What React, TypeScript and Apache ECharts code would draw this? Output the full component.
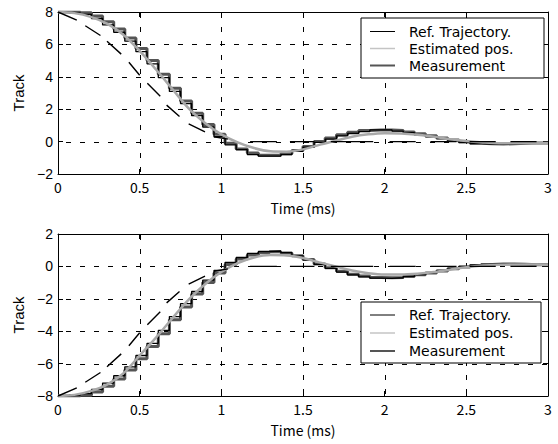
import React, { useEffect, useRef } from 'react';
import * as echarts from 'echarts';

// ---------- data ----------
const estTimes = [0, 0.1, 0.2, 0.3, 0.4, 0.5, 0.6, 0.7, 0.8, 0.9, 1.0, 1.1, 1.2, 1.3, 1.4, 1.5, 1.6, 1.7, 1.8, 1.9, 2.0, 2.1, 2.2, 2.3, 2.4, 2.5, 2.6, 2.7, 2.8, 2.9, 3.0];
const estTop = [8.0, 7.93, 7.7, 7.28, 6.6, 5.6, 4.45, 3.25, 2.05, 1.15, 0.45, -0.05, -0.4, -0.6, -0.62, -0.48, -0.2, 0.05, 0.3, 0.45, 0.52, 0.5, 0.42, 0.3, 0.15, 0.03, -0.05, -0.1, -0.1, -0.1, -0.1];
const estBottom = [-8.0, -7.93, -7.7, -7.3, -6.6, -5.5, -4.4, -3.2, -2.05, -1.1, -0.35, 0.2, 0.55, 0.7, 0.68, 0.52, 0.25, 0.0, -0.25, -0.42, -0.5, -0.5, -0.45, -0.35, -0.2, -0.05, 0.05, 0.1, 0.12, 0.12, 0.1];

const stepTimes = [0, 0.068, 0.136, 0.205, 0.273, 0.341, 0.409, 0.477, 0.545, 0.614, 0.682, 0.75, 0.818, 0.886, 0.955, 1.023, 1.091, 1.159, 1.227, 1.295, 1.364, 1.432, 1.5, 1.568, 1.636, 1.705, 1.773, 1.841, 1.909, 1.977, 2.045, 2.114, 2.182, 2.25, 2.318, 2.386, 2.455, 2.523, 2.591, 2.659, 2.727, 2.795, 2.864, 2.932, 3.0];

const holdTop = [8.0, 8.0, 7.95, 7.85, 7.6, 7.2, 6.75, 6.2, 5.55, 4.8, 3.95, 3.1, 2.35, 1.6, 0.9, 0.3, -0.2, -0.5, -0.8, -0.9, -0.9, -0.8, -0.6, -0.35, -0.05, 0.15, 0.35, 0.5, 0.62, 0.72, 0.72, 0.65, 0.55, 0.42, 0.3, 0.18, 0.05, -0.05, -0.12, -0.15, -0.15, -0.15, -0.12, -0.1];
const measTop = [8.0, 8.0, 8.0, 7.95, 7.75, 7.4, 6.95, 6.4, 5.75, 5.0, 4.15, 3.3, 2.5, 1.75, 1.05, 0.45, -0.1, -0.45, -0.7, -0.85, -0.85, -0.75, -0.55, -0.3, 0.0, 0.22, 0.42, 0.58, 0.68, 0.72, 0.72, 0.68, 0.6, 0.48, 0.36, 0.22, 0.1, -0.02, -0.1, -0.14, -0.15, -0.13, -0.1, -0.08];
const holdBottom = [-8.0, -8.0, -7.95, -7.85, -7.6, -7.2, -6.75, -6.2, -5.5, -4.75, -3.95, -3.1, -2.3, -1.55, -0.85, -0.25, 0.25, 0.55, 0.8, 0.92, 0.95, 0.85, 0.65, 0.4, 0.12, -0.12, -0.35, -0.52, -0.65, -0.72, -0.74, -0.7, -0.62, -0.5, -0.38, -0.25, -0.12, 0.0, 0.08, 0.12, 0.15, 0.15, 0.12, 0.1];
const measBottom = [-8.0, -8.0, -8.0, -7.95, -7.75, -7.4, -6.95, -6.4, -5.7, -4.95, -4.15, -3.3, -2.5, -1.7, -1.0, -0.4, 0.12, 0.45, 0.7, 0.85, 0.9, 0.82, 0.65, 0.42, 0.15, -0.08, -0.3, -0.48, -0.6, -0.68, -0.7, -0.68, -0.62, -0.52, -0.4, -0.28, -0.15, -0.03, 0.06, 0.12, 0.15, 0.15, 0.13, 0.1];

// reference trajectory pieces: [t0, v0, t1, v1]
const refTop = [
  [0.0, 8.0, 0.115, 7.5], [0.167, 7.15, 0.26, 6.55], [0.3, 6.2, 0.387, 5.4], [0.434, 4.9, 0.5, 4.1],
  [0.547, 3.6, 0.626, 2.8], [0.665, 2.25, 0.744, 1.55], [0.8, 1.1, 0.9, 0.6], [0.955, 0.3, 1.04, 0.15],
  [1.176, 0, 1.34, 0], [1.42, 0, 1.57, 0], [1.67, 0, 1.93, 0], [2.03, 0, 2.19, 0], [2.28, 0, 2.44, 0],
  [2.52, 0, 2.68, 0], [2.77, 0, 2.93, 0],
];
const refBottom = [
  [0.0, -8.0, 0.115, -7.5], [0.167, -7.15, 0.26, -6.55], [0.3, -6.2, 0.387, -5.4], [0.434, -4.9, 0.5, -4.1],
  [0.547, -3.6, 0.626, -2.8], [0.665, -2.25, 0.744, -1.55], [0.8, -1.1, 0.9, -0.6], [0.955, -0.3, 1.04, -0.15],
  [1.176, 0, 1.34, 0], [1.42, 0, 1.57, 0], [1.67, 0, 1.93, 0], [2.03, 0, 2.19, 0], [2.28, 0, 2.44, 0],
  [2.52, 0, 2.68, 0], [2.77, 0, 2.93, 0],
];

const xTicks = [0, 0.5, 1, 1.5, 2, 2.5, 3];
const yTicksTop = [-2, 0, 2, 4, 6, 8];
const yTicksBottom = [-8, -6, -4, -2, 0, 2];

const legendNames = ['Ref. Trajectory.', 'Estimated pos.', 'Measurement'];
const xTitle = 'Time (ms)';
const yTitle = 'Track';

// ---------- styles ----------
const C_REF = '#000000';
const C_EST = '#a8a8a8';
const C_MEAS = '#555555';
const C_HOLD = '#000000';
const FONT_X = 'Noto Sans CJK JP';
const FONT_Y = 'Liberation Sans';
const FONT_LEG = 'DejaVu Sans';
const DASH_ON = 5;
const DASH_PERIOD = 14;

function stepData(vals: number[]) {
  return stepTimes.map((t, i) => [t, vals[Math.min(i, vals.length - 1)]]);
}
function refData(segs: number[][]) {
  const out: any[] = [];
  segs.forEach((s) => {
    out.push([s[0], s[1]]);
    out.push([s[2], s[3]]);
    out.push(['-', '-']);
  });
  return out;
}
function estData(vals: number[]) {
  return estTimes.map((t, i) => [t, vals[i]]);
}

const yFmt = (v: number) => (v < 0 ? '\u2212' + Math.abs(v) : String(v));

const tickStyle = { show: true, inside: true, length: 5, lineStyle: { color: '#000', width: 1 } };
const lineStyleAxis = { show: true, onZero: false, lineStyle: { color: '#000', width: 1 } };

function xAxes(g: number) {
  return [
    {
      type: 'value', gridIndex: g, min: 0, max: 3, interval: 0.5, position: 'bottom',
      axisLine: lineStyleAxis, axisTick: tickStyle,
      axisLabel: { color: '#000', fontSize: 14, fontFamily: FONT_X, margin: 6 },
      splitLine: { show: false },
      name: xTitle, nameLocation: 'middle', nameGap: 27,
      nameTextStyle: { color: '#000', fontSize: 14, fontFamily: FONT_X },
    },
    {
      type: 'value', gridIndex: g, min: 0, max: 3, interval: 0.5, position: 'top',
      axisLine: lineStyleAxis, axisTick: tickStyle,
      axisLabel: { show: false }, splitLine: { show: false },
    },
  ];
}
function yAxes(g: number, min: number, max: number) {
  return [
    {
      type: 'value', gridIndex: g, min, max, interval: 2, position: 'left',
      axisLine: lineStyleAxis, axisTick: tickStyle,
      axisLabel: { color: '#000', fontSize: 14, fontFamily: FONT_Y, margin: 5, formatter: yFmt },
      splitLine: { show: false },
      name: yTitle, nameLocation: 'middle', nameGap: 31, nameRotate: 90,
      nameTextStyle: { color: '#000', fontSize: 15, fontFamily: FONT_Y },
    },
    {
      type: 'value', gridIndex: g, min, max, interval: 2, position: 'right',
      axisLine: lineStyleAxis, axisTick: tickStyle,
      axisLabel: { show: false }, splitLine: { show: false },
    },
  ];
}

function seriesFor(g: number, est: number[], hold: number[], meas: number[], ref: number[][]) {
  const xi = g * 2;
  const yi = g * 2;
  return [
    {
      type: 'line', name: legendNames[2], xAxisIndex: xi, yAxisIndex: yi, data: stepData(meas), step: 'start',
      showSymbol: false, symbol: 'none', lineStyle: { color: C_MEAS, width: 3 }, z: 2,
    },
    {
      type: 'line', name: 'hold', xAxisIndex: xi, yAxisIndex: yi, data: stepData(hold), step: 'start',
      showSymbol: false, symbol: 'none', lineStyle: { color: C_HOLD, width: 1.3 }, z: 3,
    },
    {
      type: 'line', name: legendNames[1], xAxisIndex: xi, yAxisIndex: yi, data: estData(est), smooth: 0.3,
      showSymbol: false, symbol: 'none', lineStyle: { color: C_EST, width: 2.5 }, z: 4,
    },
    {
      type: 'line', name: legendNames[0], xAxisIndex: xi, yAxisIndex: yi, data: refData(ref), connectNulls: false,
      showSymbol: false, symbol: 'none', lineStyle: { color: C_REF, width: 1.4 }, z: 5,
    },
  ];
}

function legendGraphic(left: number, top: number, right: number, bottom: number, rows: number[]) {
  const children: any[] = [
    { type: 'rect', z: 100, shape: { x: left, y: top, width: right - left, height: bottom - top }, style: { fill: '#fff', stroke: '#000', lineWidth: 1 } },
  ];
  const cols = [C_REF, '#c4c4c4', C_MEAS];
  const widths = [1, 1.5, 2];
  rows.forEach((y, i) => {
    children.push({ type: 'polyline', z: 101, shape: { points: [[left + 9, y], [left + 34, y]] }, style: { stroke: cols[i], lineWidth: widths[i], fill: null } });
    children.push({
      type: 'text', z: 101, x: left + 48, y,
      style: { text: legendNames[i], fill: '#000', fontSize: 14, fontFamily: FONT_LEG, lineHeight: 15, verticalAlign: 'middle', align: 'left' },
    });
  });
  return { type: 'group', children };
}

// dashed grid lines placed through the axes' own scales (each dash is a short line)
function gridLines(chart: any, g: number, yTicks: number[], yMin: number, yMax: number) {
  const els: any[] = [];
  const finder = { xAxisIndex: g * 2, yAxisIndex: g * 2 };
  const snap = (v: number) => Math.round(v) + 0.5;
  const dashStyle = { stroke: '#000', lineWidth: 1 };
  xTicks.forEach((t) => {
    if (t === 0 || t === 3) return;
    const pTop = chart.convertToPixel(finder, [t, yMax]);
    const pBot = chart.convertToPixel(finder, [t, yMin]);
    const x = snap(pTop[0]);
    for (let y = Math.round(pTop[1]) + 1; y < pBot[1] - 1; y += DASH_PERIOD) {
      els.push({ type: 'line', z: 1, silent: true, shape: { x1: x, y1: y, x2: x, y2: Math.min(y + DASH_ON, pBot[1]) }, style: dashStyle });
    }
  });
  yTicks.forEach((v) => {
    if (v === yMin || v === yMax) return;
    const pL = chart.convertToPixel(finder, [0, v]);
    const pR = chart.convertToPixel(finder, [3, v]);
    const y = snap(pL[1]);
    for (let x = Math.round(pL[0]) + 8; x < pR[0] - 1; x += DASH_PERIOD) {
      els.push({ type: 'line', z: 1, silent: true, shape: { x1: x, y1: y, x2: Math.min(x + DASH_ON, pR[0]), y2: y }, style: dashStyle });
    }
  });
  return els;
}

export default function App() {
  const ref = useRef<HTMLDivElement>(null);
  useEffect(() => {
    if (!ref.current) return;
    const chart = echarts.init(ref.current, undefined, { renderer: 'svg' });
    const legends = [
      legendGraphic(361, 18, 544, 78, [31.5, 48.5, 65.5]),
      legendGraphic(361, 302, 541, 363, [315, 333, 351]),
    ];
    chart.setOption({
      animation: false,
      backgroundColor: '#ffffff',
      grid: [
        { left: 58, top: 12, width: 490, height: 162, show: false },
        { left: 58, top: 234, width: 490, height: 162, show: false },
      ],
      xAxis: [...xAxes(0), ...xAxes(1)],
      yAxis: [...yAxes(0, -2, 8), ...yAxes(1, -8, 2)],
      series: [
        ...seriesFor(0, estTop, holdTop, measTop, refTop),
        ...seriesFor(1, estBottom, holdBottom, measBottom, refBottom),
      ],
      graphic: legends,
    });
    const lines = [
      ...gridLines(chart, 0, yTicksTop, -2, 8),
      ...gridLines(chart, 1, yTicksBottom, -8, 2),
    ];
    chart.setOption({ graphic: [...legends, { type: 'group', children: lines }] });
    return () => chart.dispose();
  }, []);
  return <div ref={ref} style={{ position: 'fixed', left: 0, top: 0, width: 558, height: 444, background: '#fff' }} />;
}
